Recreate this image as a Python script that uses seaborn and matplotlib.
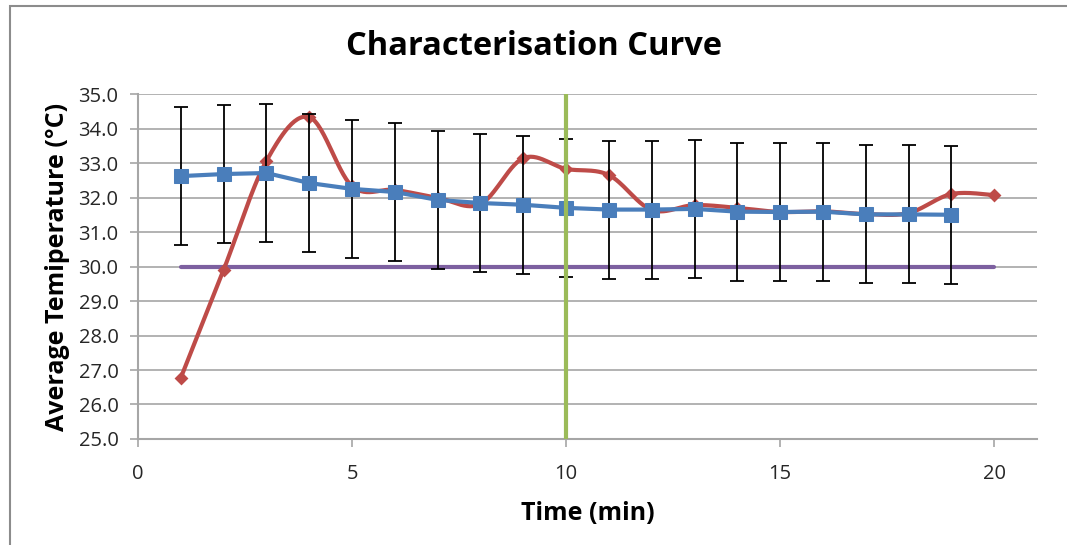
import numpy as np
import pandas as pd
import matplotlib
matplotlib.use("Agg")
import matplotlib.pyplot as plt
import seaborn as sns

# Time points (minutes)
time_avg = [1, 2, 3, 4, 5, 6, 7, 8, 9, 10, 11, 12, 13, 14, 15, 16, 17, 18, 19]
time_run = [1, 2, 3, 4, 5, 6, 7, 8, 9, 10, 11, 12, 13, 14, 15, 16, 17, 18, 19, 20]

# Average temperature with standard deviation (°C)
avg_temp = [32.62, 32.68, 32.71, 32.42, 32.25, 32.16, 31.93, 31.84, 31.79, 31.70,
            31.65, 31.65, 31.67, 31.59, 31.58, 31.59, 31.51, 31.51, 31.50]
avg_err = [2.0, 2.0, 2.0, 2.0, 2.0, 2.0, 2.0, 2.0, 2.0, 2.0,
           2.0, 2.0, 2.0, 2.0, 2.0, 2.0, 2.0, 2.0, 2.0]

# Single characterisation run (°C)
run_temp = [26.77, 29.90, 33.06, 34.33, 32.33, 32.22, 31.99, 31.81, 33.14, 32.83,
            32.65, 31.64, 31.78, 31.70, 31.58, 31.60, 31.52, 31.55, 32.10, 32.07]

# Reference levels
target_temp = 30.0
target_span = [1, 20]
marker_time = 10

x_ticks = [0, 5, 10, 15, 20]
y_ticks = [25.0, 26.0, 27.0, 28.0, 29.0, 30.0, 31.0, 32.0, 33.0, 34.0, 35.0]

BLUE = "#4a7ebb"
RED = "#be4b48"
PURPLE = "#7d60a0"
GREEN = "#9bbb59"
GRID = "#a6a6a6"


def smooth_curve(x, y, steps=30):
    """Bezier smoothing through every point (spreadsheet-style smoothed line)."""
    x = np.asarray(x, float)
    y = np.asarray(y, float)
    pts = np.column_stack([x, y])
    padded = np.vstack([pts[0], pts, pts[-1]])
    out = []
    t = np.linspace(0, 1, steps)[:, None]
    for i in range(len(pts) - 1):
        p0, p1, p2, p3 = padded[i], padded[i + 1], padded[i + 2], padded[i + 3]
        c1 = p1 + (p2 - p0) / 6.0
        c2 = p2 - (p3 - p1) / 6.0
        seg = ((1 - t) ** 3) * p1 + 3 * ((1 - t) ** 2) * t * c1 + 3 * (1 - t) * t ** 2 * c2 + t ** 3 * p2
        out.append(seg if i == 0 else seg[1:])
    out = np.vstack(out)
    return out[:, 0], out[:, 1]


sns.set_theme(style="white")
plt.rcParams["font.family"] = ["Open Sans", "DejaVu Sans"]

fig = plt.figure(figsize=(10.67, 5.45), dpi=100)
ax = fig.add_axes([0.1293, 0.1945, 0.8426, 0.633])

df_avg = pd.DataFrame({"time": time_avg, "temp": avg_temp, "err": avg_err})
df_run = pd.DataFrame({"time": time_run, "temp": run_temp})

# Target temperature line
sns.lineplot(x=target_span, y=[target_temp, target_temp], ax=ax, color=PURPLE,
             linewidth=3, zorder=2)

# Smoothed single-run curve with diamond markers
sx, sy = smooth_curve(df_run["time"], df_run["temp"])
sns.lineplot(x=sx, y=sy, ax=ax, color=RED, linewidth=3, sort=False, zorder=3)
sns.scatterplot(data=df_run, x="time", y="temp", ax=ax, color=RED, marker="D",
                s=50, edgecolor=RED, linewidth=0, zorder=4)

# Error bars of the averaged data
ax.errorbar(df_avg["time"], df_avg["temp"], yerr=df_avg["err"], fmt="none",
            ecolor="black", elinewidth=1.3, capsize=5, capthick=1.3, zorder=5)

# Averaged curve with square markers
sns.lineplot(data=df_avg, x="time", y="temp", ax=ax, color=BLUE, linewidth=3,
             marker="s", markersize=10, markeredgecolor=BLUE, zorder=6)

# Vertical marker at 10 minutes
ax.axvline(marker_time, ymin=0, ymax=1, color=GREEN, linewidth=3, zorder=7)

ax.set_xlim(0, 21)
ax.set_ylim(25, 35)
ax.set_xticks(x_ticks)
ax.set_yticks(y_ticks)
ax.set_yticklabels([f"{v:.1f}" for v in y_ticks])
ax.yaxis.grid(True, color=GRID, linewidth=1.2)
ax.set_axisbelow(True)

for side in ["top", "right"]:
    ax.spines[side].set_visible(False)
for side in ["left", "bottom"]:
    ax.spines[side].set_color(GRID)
    ax.spines[side].set_linewidth(1.5)

ax.tick_params(axis="both", which="major", direction="out", length=6, width=1.2,
               color=GRID, labelsize=14.5, labelcolor="#262626", bottom=True, left=True)
ax.tick_params(axis="x", pad=12)
ax.tick_params(axis="y", pad=8)

ax.set_xlabel("Time (min)", fontsize=18, fontweight="bold", labelpad=12, color="black")
ax.set_ylabel("Average Temiperature (°C)", fontsize=18, fontweight="bold", labelpad=6,
              color="black")
fig.suptitle("Characterisation Curve", fontsize=23.5, fontweight="bold", y=0.945,
             color="black")

# Chart area border (runs off the right and bottom edges)
fig.patches.append(plt.Rectangle((0.0095, -0.05), 1.1, 1.039, transform=fig.transFigure,
                                 fill=False, edgecolor="#8c8c8c", linewidth=1.5))

fig.savefig("out.png", dpi=100)
